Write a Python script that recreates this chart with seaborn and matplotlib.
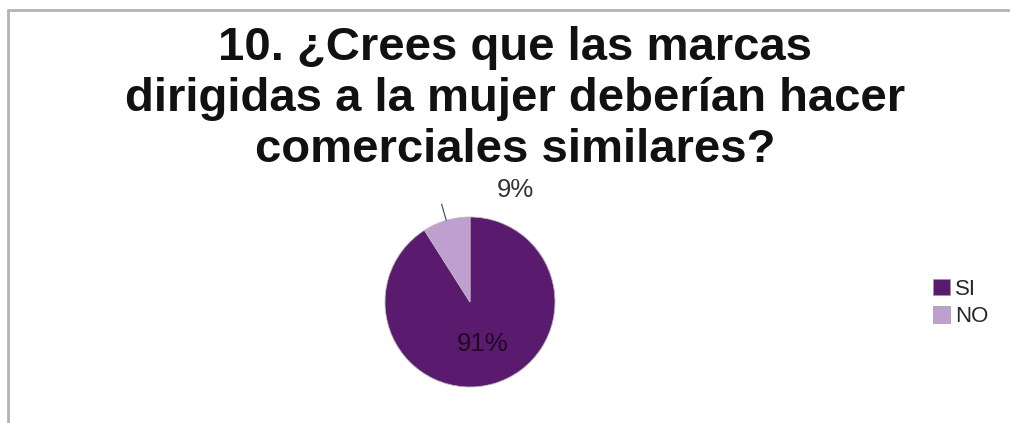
import numpy as np
import matplotlib
matplotlib.use("Agg")
import matplotlib.pyplot as plt
import seaborn as sns
from matplotlib.patches import Patch

categories = ["SI", "NO"]
values = [91, 9]
colors = ["#5a1a6e", "#bf9fcf"]
title = "10. ¿Crees que las marcas\ndirigidas a la mujer deberían hacer\ncomerciales similares?"

sns.set_theme(style="white")
plt.rcParams["font.family"] = ["Liberation Sans", "DejaVu Sans"]

W, H = 1010, 423
fig = plt.figure(figsize=(W / 100, H / 100), dpi=100)

# chart frame (top and left edges visible)
fig.add_artist(plt.Line2D([8 / W, 8 / W], [0, 1 - 10 / H], transform=fig.transFigure,
                          color="#b3b3b3", lw=2))
fig.add_artist(plt.Line2D([8 / W, 1], [1 - 10 / H, 1 - 10 / H], transform=fig.transFigure,
                          color="#b3b3b3", lw=2))

fig.text(515 / W, 1 - 99 / H, title, ha="center", va="center", fontsize=34,
         fontweight="bold", color="#111111", linespacing=1.2)

cx, cy, r = 470, 302, 85
ax = fig.add_axes([(cx - r) / W, (H - cy - r) / H, 2 * r / W, 2 * r / H])
wedges, texts = ax.pie(values, colors=colors, startangle=90, counterclock=False,
                       radius=1, wedgeprops=dict(edgecolor="#bbbbbb", linewidth=0.6))
ax.set_xlim(-1, 1)
ax.set_ylim(-1, 1)
ax.set_aspect("equal")
ax.axis("off")

total = sum(values)
start = 90.0
for v, w in zip(values, wedges):
    span = v / total * 360
    mid = np.deg2rad(start - span / 2)
    start -= span
    label = f"{v}%"
    if v > 50:
        ax.text(0.55 * np.cos(mid), 0.51 * np.sin(mid), label, ha="center", va="center",
                fontsize=18.5, color="#1f0a26")
    else:
        ax.plot([1.0 * np.cos(mid), 1.2 * np.cos(mid)],
                [1.0 * np.sin(mid), 1.2 * np.sin(mid)], color="#444444", lw=0.8,
                clip_on=False)
        ax.text(0.53, 1.32, label, ha="center", va="center", fontsize=18.5,
                color="#333333", clip_on=False)

handles = [Patch(facecolor=c, edgecolor="#999999", linewidth=0.5) for c in colors]
fig.legend(handles, categories, loc="center left", bbox_to_anchor=(933 / W, 1 - 303 / H),
           frameon=False, fontsize=16, handlelength=0.75, handleheight=0.75,
           handletextpad=0.25, labelspacing=0.3, borderpad=0, borderaxespad=0)

fig.savefig("out.png", dpi=100, facecolor="white")
